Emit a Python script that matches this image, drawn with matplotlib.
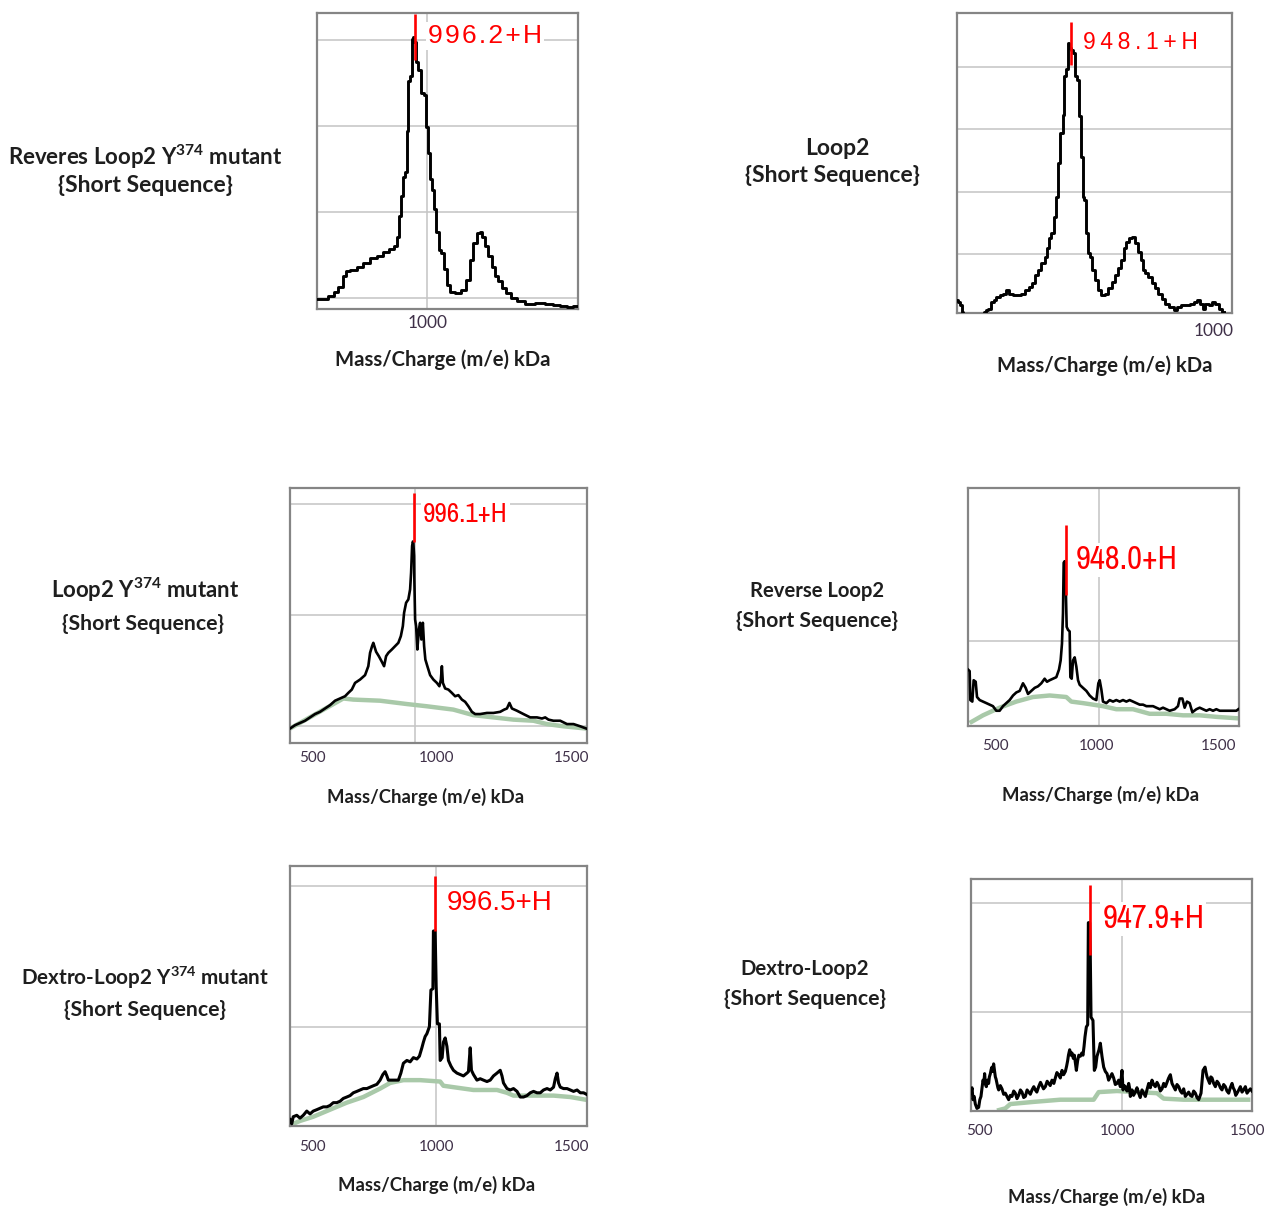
import os
import matplotlib
matplotlib.use('Agg')
import matplotlib.pyplot as plt
from matplotlib import font_manager

plt.rcParams['mathtext.fontset'] = 'custom'
plt.rcParams['mathtext.rm'] = 'Lato'
plt.rcParams['mathtext.default'] = 'regular'

W, H = 1267, 1209
TEXT = '#1e1e1e'
TICK = '#3f3048'
GREEN = '#a9c9a9'
FRAME = '#858585'
GRID = '#c4c4c4'

# ---------------- spectra: m/z and relative intensity ----------------
# Reveres Loop2 Y374 mutant (zoomed window)
rev_y374_mz = [963.6, 965.6, 968.9, 969.5, 971.2, 972.8, 973.4, 975.6, 977.8, 980.1,
               982.3, 984.5, 986.7, 988.4, 989.8, 990.3, 991.2, 991.7, 992.3, 993.2,
               993.6, 994.3, 994.8, 995.2, 995.6, 996.2, 996.9, 997.6, 998.5, 999.5,
               1000.1, 1000.7, 1001.4, 1002.1, 1002.8, 1003.6, 1004.5, 1005.4, 1006.2, 1007.3,
               1008.4, 1010.6, 1012.3, 1013.9, 1015.1, 1016.2, 1017.3, 1018.1, 1019.2, 1020.1,
               1021.2, 1022.3, 1023.4, 1024.5, 1025.8, 1027.3, 1028.9, 1031.2, 1034.5, 1037.8,
               1041.2, 1043.4, 1045.6, 1047.8, 1050.0]
rev_y374_int = [-0.02, -0.02, 0.02, 0.07, 0.13, 0.25, 0.31, 0.32, 0.36, 0.40,
                0.46, 0.49, 0.53, 0.57, 0.60, 0.71, 0.95, 1.18, 1.41, 1.47,
                1.94, 2.52, 2.58, 3.02, 3.04, 2.98, 2.75, 2.65, 2.38, 2.36,
                1.99, 1.69, 1.38, 1.26, 1.03, 0.76, 0.56, 0.52, 0.33, 0.15,
                0.07, 0.05, 0.09, 0.21, 0.44, 0.64, 0.75, 0.77, 0.71, 0.60,
                0.48, 0.36, 0.25, 0.19, 0.11, 0.05, 0.00, -0.04, -0.07, -0.06,
                -0.07, -0.08, -0.10, -0.11, -0.10]

# Loop2 (zoomed window)
loop2_mz = [907.2, 907.9, 908.7, 909.3, 909.6, 913.0, 916.6, 917.5, 917.8, 919.0,
            919.9, 920.8, 922.0, 923.2, 924.4, 925.6, 926.4, 928.0, 929.8, 931.0,
            932.5, 933.7, 934.9, 935.8, 937.0, 938.2, 939.2, 939.7, 940.6, 941.6,
            942.4, 943.3, 944.0, 944.8, 945.7, 946.0, 946.9, 947.2, 947.9, 948.5,
            949.3, 950.0, 950.9, 951.5, 952.1, 952.7, 953.4, 953.9, 954.5, 955.3,
            956.3, 957.2, 958.4, 959.9, 961.1, 962.3, 963.5, 964.7, 965.9, 966.9,
            967.7, 968.5, 969.5, 970.7, 971.9, 972.9, 973.7, 974.6, 975.5, 976.7,
            977.9, 979.1, 980.3, 981.5, 982.7, 984.5, 985.8, 987.0, 988.8, 990.6,
            991.8, 993.0, 994.2, 995.4, 996.0, 997.2, 998.4, 999.6, 1000.8, 1002.0,
            1003.2]
loop2_int = [0.26, 0.23, 0.18, 0.07, -0.01, -0.10, -0.10, 0.07, 0.10, 0.12,
             0.23, 0.26, 0.31, 0.34, 0.36, 0.42, 0.36, 0.34, 0.34, 0.36,
             0.42, 0.47, 0.53, 0.66, 0.74, 0.85, 0.95, 1.09, 1.25, 1.33,
             1.60, 1.92, 2.46, 2.94, 3.23, 3.85, 3.96, 4.38, 4.30, 4.27,
             4.22, 3.85, 3.79, 3.21, 2.56, 1.92, 1.87, 1.33, 1.01, 0.95,
             0.74, 0.58, 0.42, 0.34, 0.36, 0.45, 0.55, 0.66, 0.77, 0.90,
             1.09, 1.20, 1.25, 1.27, 1.17, 1.03, 0.90, 0.74, 0.69, 0.63,
             0.53, 0.45, 0.36, 0.28, 0.20, 0.15, 0.10, 0.15, 0.18, 0.19,
             0.20, 0.23, 0.26, 0.20, 0.12, 0.20, 0.18, 0.23, 0.20, 0.12,
             0.07]

# Loop2 Y374 mutant
l2_y374_mz = [500, 520, 540, 560, 580, 600, 620, 640, 660, 680,
              700, 720, 733, 747, 760, 780, 800, 813, 820, 828,
              833, 844, 855, 867, 876, 884, 893, 907, 920, 933,
              943, 951, 956, 964, 973, 980, 984, 988, 991, 993,
              996, 997, 1000, 1004, 1009, 1015, 1020, 1025, 1031, 1036,
              1041, 1049, 1060, 1073, 1087, 1097, 1103, 1107, 1111, 1120,
              1133, 1147, 1160, 1173, 1187, 1200, 1213, 1227, 1240, 1260,
              1287, 1313, 1340, 1356, 1367, 1377, 1387, 1407, 1433, 1460,
              1487, 1507, 1520, 1533, 1553, 1580, 1607, 1633, 1660, 1684]
l2_y374_int = [-0.02, 0.01, 0.03, 0.05, 0.08, 0.11, 0.13, 0.16, 0.19, 0.23,
               0.25, 0.27, 0.30, 0.33, 0.39, 0.42, 0.46, 0.54, 0.66, 0.72,
               0.75, 0.67, 0.63, 0.58, 0.54, 0.63, 0.66, 0.69, 0.72, 0.75,
               0.81, 0.90, 1.02, 1.11, 1.14, 1.23, 1.38, 1.62, 1.66, 1.65,
               1.53, 1.32, 0.96, 0.90, 0.69, 0.87, 0.93, 0.78, 0.93, 0.72,
               0.60, 0.54, 0.46, 0.42, 0.39, 0.36, 0.42, 0.54, 0.39, 0.34,
               0.33, 0.30, 0.27, 0.28, 0.24, 0.22, 0.18, 0.13, 0.11, 0.11,
               0.12, 0.12, 0.13, 0.15, 0.16, 0.21, 0.16, 0.14, 0.11, 0.08,
               0.08, 0.07, 0.08, 0.06, 0.05, 0.05, 0.02, 0.02, 0.00, -0.02]
l2_y374_base_mz = [500, 713, 753, 860, 967, 1047, 1153, 1233, 1313, 1393, 1473, 1527, 1593, 1684]
l2_y374_base = [-0.02, 0.25, 0.24, 0.23, 0.20, 0.18, 0.15, 0.10, 0.08, 0.06, 0.05, 0.02, 0.00, -0.02]

# Reverse Loop2
rev_l2_mz = [793.7, 796.3, 797.4, 800.5, 802.6, 805.8, 807.9, 812.1, 817.3, 822.6,
             827.8, 833.0, 838.3, 843.5, 848.8, 854.0, 859.3, 864.6, 869.8, 875.1,
             880.3, 884.5, 888.2, 893.4, 898.7, 903.9, 909.2, 914.4, 918.1, 922.3,
             927.5, 932.8, 937.0, 939.6, 941.7, 943.3, 944.4, 945.9, 947.0, 948.0,
             949.1, 951.2, 953.8, 954.9, 957.0, 959.1, 961.7, 964.3, 967.0, 969.6,
             974.8, 980.1, 985.3, 990.5, 995.8, 999.0, 1001.1, 1003.7, 1006.3, 1011.6,
             1016.8, 1022.1, 1027.3, 1032.6, 1037.8, 1043.1, 1048.3, 1053.6, 1058.8, 1064.1,
             1069.3, 1074.6, 1079.8, 1085.1, 1090.3, 1095.6, 1100.8, 1106.1, 1111.3, 1119.2,
             1124.4, 1127.1, 1131.3, 1134.9, 1138.6, 1142.8, 1147.0, 1153.3, 1158.6, 1163.8,
             1169.1, 1174.3, 1179.6, 1184.8, 1190.1, 1195.3, 1200.6, 1208.4, 1216.3, 1219.5]
rev_l2_int = [0.81, 0.80, 0.61, 0.60, 0.74, 0.73, 0.63, 0.61, 0.60, 0.59,
              0.58, 0.57, 0.54, 0.54, 0.57, 0.59, 0.61, 0.64, 0.66, 0.67,
              0.72, 0.69, 0.65, 0.67, 0.69, 0.70, 0.72, 0.75, 0.73, 0.74,
              0.75, 0.76, 0.81, 0.87, 0.98, 1.18, 1.51, 1.52, 1.40, 1.29,
              1.09, 1.07, 1.06, 0.76, 0.75, 0.87, 0.89, 0.83, 0.74, 0.71,
              0.69, 0.67, 0.64, 0.62, 0.61, 0.72, 0.74, 0.68, 0.60, 0.59,
              0.61, 0.60, 0.61, 0.60, 0.61, 0.60, 0.61, 0.60, 0.59, 0.58,
              0.58, 0.57, 0.57, 0.57, 0.56, 0.55, 0.56, 0.55, 0.54, 0.55,
              0.57, 0.62, 0.62, 0.56, 0.60, 0.59, 0.53, 0.55, 0.56, 0.55,
              0.54, 0.55, 0.54, 0.55, 0.54, 0.54, 0.54, 0.54, 0.54, 0.55]
rev_l2_base_mz = [796.3, 817.3, 843.5, 869.8, 896.0, 922.3, 948.5, 956.4, 974.8, 990.5,
                  1006.3, 1027.3, 1053.6, 1079.8, 1106.1, 1132.3, 1158.6, 1184.8, 1219.5]
rev_l2_base = [0.46, 0.51, 0.56, 0.60, 0.63, 0.64, 0.63, 0.60, 0.59, 0.58,
               0.57, 0.55, 0.55, 0.52, 0.52, 0.51, 0.51, 0.50, 0.49]

# Dextro-Loop2 Y374 mutant
dex_y374_mz = [416, 423, 429, 443, 456, 469, 483, 496, 509, 523,
               536, 549, 563, 576, 589, 603, 616, 629, 643, 656,
               669, 683, 696, 709, 723, 736, 749, 763, 776, 787,
               796, 803, 809, 829, 849, 859, 869, 883, 896, 909,
               923, 933, 943, 949, 956, 963, 973, 979, 987, 989,
               996, 1000, 1005, 1013, 1016, 1024, 1029, 1036, 1043, 1049,
               1059, 1069, 1083, 1096, 1109, 1123, 1129, 1136, 1141, 1149,
               1163, 1176, 1189, 1203, 1216, 1229, 1243, 1256, 1263, 1269,
               1283, 1296, 1309, 1323, 1336, 1349, 1363, 1376, 1389, 1403,
               1416, 1429, 1443, 1456, 1469, 1476, 1483, 1489, 1496, 1509,
               1523, 1536, 1549, 1563, 1576, 1589, 1600]
dex_y374_int = [0.34, 0.31, 0.36, 0.37, 0.35, 0.37, 0.40, 0.38, 0.40, 0.41,
                0.42, 0.43, 0.43, 0.44, 0.46, 0.46, 0.47, 0.49, 0.50, 0.51,
                0.53, 0.54, 0.55, 0.56, 0.56, 0.57, 0.58, 0.59, 0.62, 0.66,
                0.68, 0.65, 0.62, 0.62, 0.62, 0.67, 0.74, 0.76, 0.75, 0.78,
                0.77, 0.79, 0.85, 0.89, 0.93, 0.95, 1.00, 1.26, 1.27, 1.68,
                1.68, 1.29, 1.02, 1.02, 0.76, 0.78, 0.89, 0.92, 0.86, 0.76,
                0.72, 0.69, 0.67, 0.66, 0.65, 0.67, 0.68, 0.85, 0.69, 0.66,
                0.62, 0.63, 0.62, 0.61, 0.62, 0.65, 0.67, 0.69, 0.65, 0.60,
                0.56, 0.55, 0.56, 0.54, 0.50, 0.50, 0.51, 0.53, 0.54, 0.53,
                0.53, 0.55, 0.56, 0.55, 0.57, 0.63, 0.67, 0.60, 0.57, 0.56,
                0.56, 0.55, 0.54, 0.55, 0.53, 0.53, 0.52]
dex_y374_base_mz = [416, 456, 509, 576, 643, 709, 776, 816, 869, 936,
                    1016, 1029, 1149, 1243, 1283, 1309, 1469, 1536, 1600]
dex_y374_base = [0.30, 0.33, 0.36, 0.41, 0.46, 0.50, 0.56, 0.60, 0.62, 0.62,
                 0.61, 0.58, 0.55, 0.55, 0.53, 0.51, 0.51, 0.50, 0.48]

# Dextro-Loop2
dex_l2_mz = [751.8, 753.5, 755.1, 757.0, 758.9, 761.6, 764.4, 766.3, 768.2, 770.0,
             771.5, 773.0, 774.2, 775.6, 777.0, 779.0, 780.8, 782.0, 783.6, 785.0,
             786.3, 787.7, 789.0, 790.4, 791.8, 793.0, 794.5, 796.0, 797.3, 800.0,
             802.7, 805.5, 808.2, 811.0, 813.7, 816.5, 819.2, 822.0, 824.7, 827.4,
             830.1, 833.0, 835.6, 838.4, 841.1, 844.0, 846.6, 849.3, 852.1, 855.0,
             857.5, 860.0, 863.0, 866.0, 868.5, 871.0, 874.0, 877.0, 879.5, 882.0,
             884.9, 888.0, 890.4, 893.0, 895.9, 898.6, 901.4, 904.0, 906.9, 909.0,
             910.7, 912.0, 914.0, 916.0, 917.8, 920.0, 921.7, 923.5, 925.0, 926.0,
             927.1, 929.0, 931.5, 934.0, 935.9, 937.6, 939.2, 941.4, 943.6, 944.7,
             946.9, 947.9, 949.1, 952.3, 954.5, 956.7, 958.9, 960.5, 962.2, 964.4,
             967.1, 969.9, 972.6, 975.4, 978.0, 980.8, 983.5, 986.3, 989.0, 991.8,
             994.5, 997.3, 1000.0, 1001.7, 1003.6, 1005.5, 1008.2, 1011.0, 1012.4, 1013.7,
             1015.0, 1016.5, 1019.0, 1021.9, 1024.6, 1027.4, 1030.0, 1032.9, 1035.6, 1038.4,
             1041.0, 1043.9, 1046.6, 1049.3, 1052.0, 1054.8, 1057.5, 1060.3, 1063.0, 1065.8,
             1068.5, 1071.3, 1074.0, 1076.7, 1079.5, 1082.2, 1085.0, 1087.7, 1090.4, 1093.2,
             1096.0, 1098.7, 1101.4, 1104.1, 1106.8, 1109.6, 1112.3, 1115.1, 1117.8, 1120.6,
             1123.3, 1126.1, 1128.0, 1129.9, 1131.5, 1133.2, 1136.5, 1138.2, 1139.8, 1142.0,
             1144.1, 1146.0, 1148.0, 1150.7, 1153.5, 1156.2, 1158.9, 1161.7, 1164.4, 1167.1,
             1169.9, 1172.6, 1175.4, 1178.0, 1180.9, 1182.8, 1184.7, 1187.0, 1189.1, 1192.0,
             1194.6, 1197.3, 1200.0, 1202.8, 1205.5, 1208.0, 1211.0, 1213.7]
dex_l2_int = [0.25, 0.30, 0.19, 0.22, 0.15, 0.11, 0.12, 0.19, 0.22, 0.30,
              0.37, 0.35, 0.43, 0.33, 0.31, 0.37, 0.34, 0.40, 0.43, 0.47,
              0.49, 0.45, 0.52, 0.46, 0.40, 0.38, 0.34, 0.30, 0.28, 0.32,
              0.29, 0.24, 0.25, 0.22, 0.19, 0.23, 0.22, 0.27, 0.25, 0.20,
              0.23, 0.28, 0.26, 0.21, 0.22, 0.28, 0.26, 0.24, 0.28, 0.31,
              0.28, 0.26, 0.31, 0.35, 0.32, 0.29, 0.31, 0.36, 0.34, 0.32,
              0.37, 0.34, 0.39, 0.44, 0.42, 0.39, 0.46, 0.42, 0.45, 0.50,
              0.55, 0.60, 0.65, 0.60, 0.62, 0.57, 0.60, 0.52, 0.46, 0.50,
              0.55, 0.60, 0.59, 0.62, 0.60, 0.68, 0.77, 0.86, 0.88, 1.82,
              1.82, 1.52, 0.95, 0.92, 0.46, 0.49, 0.59, 0.62, 0.65, 0.71,
              0.59, 0.49, 0.45, 0.43, 0.37, 0.40, 0.43, 0.39, 0.33, 0.34,
              0.37, 0.31, 0.46, 0.28, 0.32, 0.31, 0.27, 0.34, 0.30, 0.22,
              0.25, 0.28, 0.23, 0.26, 0.30, 0.25, 0.21, 0.28, 0.25, 0.22,
              0.28, 0.34, 0.30, 0.37, 0.33, 0.31, 0.35, 0.32, 0.27, 0.29,
              0.34, 0.31, 0.35, 0.39, 0.42, 0.34, 0.31, 0.28, 0.33, 0.31,
              0.27, 0.25, 0.29, 0.22, 0.24, 0.26, 0.23, 0.22, 0.27, 0.25,
              0.21, 0.19, 0.22, 0.25, 0.35, 0.46, 0.49, 0.44, 0.40, 0.37,
              0.34, 0.40, 0.39, 0.34, 0.31, 0.36, 0.34, 0.30, 0.28, 0.33,
              0.31, 0.27, 0.25, 0.30, 0.34, 0.30, 0.28, 0.23, 0.25, 0.28,
              0.31, 0.26, 0.28, 0.31, 0.25, 0.27, 0.29, 0.27]
dex_l2_base_mz = [794.5, 808.2, 816.4, 854.8, 898.6, 953.4, 961.7, 991.8, 1024.7, 1057.6,
                  1068.5, 1101.4, 1156.2, 1211.0]
dex_l2_base = [0.09, 0.11, 0.15, 0.17, 0.19, 0.19, 0.26, 0.27, 0.26, 0.25,
               0.20, 0.19, 0.19, 0.19]

# labelled [M+H] peaks
peak_mz = [996.2, 948.1, 996.1, 948.0, 996.5, 947.9]
peak_text = [f'{m:.1f}+H' for m in peak_mz]
# vertical extent of each red peak marker (intensity units)
marker_lo = [2.77, 4.03, 1.66, 1.30, 1.68, 1.52]
marker_hi = [3.31, 4.72, 2.10, 1.76, 2.07, 2.17]

titles = [
    ('Reveres Loop2 Y$^{374}$ mutant', '{Short Sequence}'),
    ('Loop2', '{Short Sequence}'),
    ('Loop2 Y$^{374}$ mutant', '{Short Sequence}'),
    ('Reverse Loop2', '{Short Sequence}'),
    ('Dextro-Loop2 Y$^{374}$ mutant', '{Short Sequence}'),
    ('Dextro-Loop2', '{Short Sequence}'),
]
tick_text = [['1000'], ['1000'], ['500', '1000', '1500'], ['500', '1000', '1500'],
             ['500', '1000', '1500'], ['500', '1000', '1500']]
x_title = 'Mass/Charge (m/e) kDa'


def find_narrow():
    """Look for an installed regular-weight narrow/condensed sans font file."""
    skip = ('bold', 'italic', 'oblique', 'light', 'thin', 'medium', 'black',
            'semi', 'extra', 'heavy', 'mono', 'serif')
    best, rank = None, 0
    for f in font_manager.fontManager.ttflist:
        base = os.path.basename(f.fname).lower()
        if 'narrow' not in base and 'condensed' not in base:
            continue
        stem = base.rsplit('.', 1)[0].replace('condensed', '').replace('narrow', '')
        if any(w in stem for w in skip):
            continue
        r = 3 if ('liberation' in base or 'arial' in base) else (1 if 'dejavu' in base else 2)
        if r > rank:
            best, rank = f.fname, r
    return best, rank


narrow_file, narrow_rank = find_narrow()


def label_font(kind, size):
    if kind == 'narrow':
        if narrow_file is not None:
            scale = 0.9 if narrow_rank == 1 else 1.0
            return font_manager.FontProperties(fname=narrow_file, size=size * scale)
        return font_manager.FontProperties(family='Liberation Sans', size=size * 0.84)
    return font_manager.FontProperties(family=['Liberation Sans', 'DejaVu Sans'], size=size)


# layout of every panel, in pixels of the final image
layout = [
    dict(box=(317, 13, 578, 309), xlim=(963.5, 1050.5), ylim=(-0.132, 3.318), yt=[0, 1, 2, 3],
         vgrid=[1000], lab_y=3.05, lab_dx=13, lab_fs=19, lab_kind='wide', gap='\u200a',
         t_xy=[(145, 165), (145, 192)], t_fs=(16, 16.6),
         tk_xy=[(428, 323)], tk_fs=12.5, xl_xy=(443, 360), xl_fs=14.6),
    dict(box=(957, 13, 1232, 313), xlim=(907.2, 1006.2), ylim=(0.054, 4.866), yt=[1, 2, 3, 4],
         vgrid=[], lab_y=4.39, lab_dx=12, lab_fs=16.5, lab_kind='wide', gap='\u2009',
         t_xy=[(837, 155), (832, 182)], t_fs=(16.5, 16.6),
         tk_xy=[(1214, 331)], tk_fs=12.5, xl_xy=(1105, 366), xl_fs=14.6),
    dict(box=(290, 488, 587, 743), xlim=(500, 1687), ylim=(-0.150, 2.141), yt=[0, 1, 2],
         vgrid=[1000], lab_y=1.90, lab_dx=9, lab_fs=19.5, lab_kind='narrow', gap='',
         t_xy=[(145, 598), (143, 630)], t_fs=(15.9, 15.3),
         tk_xy=[(312, 758), (437, 758), (572, 758)], tk_fs=11, xl_xy=(426, 797), xl_fs=13.3),
    dict(box=(968, 488, 1239, 726), xlim=(793.7, 1220.5), ylim=(0.44, 2.0), yt=[1, 2],
         vgrid=[1000], lab_y=1.53, lab_dx=10, lab_fs=23.5, lab_kind='narrow', gap='',
         t_xy=[(817, 597), (817, 627)], t_fs=(14.6, 15.3),
         tk_xy=[(995, 746), (1097, 746), (1219, 746)], tk_fs=11, xl_xy=(1101, 795), xl_fs=13.3),
    dict(box=(290, 866, 587, 1126), xlim=(416, 1602.7), ylim=(0.294, 2.142), yt=[1, 2],
         vgrid=[1000], lab_y=1.877, lab_dx=11, lab_fs=20, lab_kind='wide', gap='',
         t_xy=[(145, 985), (145, 1016)], t_fs=(14.9, 15.3),
         tk_xy=[(312, 1147), (437, 1147), (572, 1147)], tk_fs=11, xl_xy=(437, 1185), xl_fs=13.3),
    dict(box=(971, 879, 1252, 1111), xlim=(751.8, 1213.7), ylim=(0.086, 2.222), yt=[1, 2],
         vgrid=[1000], lab_y=1.852, lab_dx=12, lab_fs=23.5, lab_kind='narrow', gap='',
         t_xy=[(805, 975), (805, 1005)], t_fs=(14.7, 15.3),
         tk_xy=[(979, 1131), (1118, 1131), (1248, 1131)], tk_fs=11, xl_xy=(1107, 1197), xl_fs=13.3),
]

# (m/z, intensity, baseline m/z, baseline, line width, draw style)
series = [
    (rev_y374_mz, rev_y374_int, None, None, 2.1, 'steps-mid'),
    (loop2_mz, loop2_int, None, None, 2.1, 'steps-mid'),
    (l2_y374_mz, l2_y374_int, l2_y374_base_mz, l2_y374_base, 1.9, 'default'),
    (rev_l2_mz, rev_l2_int, rev_l2_base_mz, rev_l2_base, 1.9, 'default'),
    (dex_y374_mz, dex_y374_int, dex_y374_base_mz, dex_y374_base, 2.2, 'default'),
    (dex_l2_mz, dex_l2_int, dex_l2_base_mz, dex_l2_base, 2.2, 'default'),
]


def fx(x):
    return x / W


def fy(y):
    return 1 - y / H


fig = plt.figure(figsize=(W / 100, H / 100), dpi=100)
fig.patch.set_facecolor('white')

for i, lay in enumerate(layout):
    l, t, r, b = lay['box']
    ax = fig.add_axes([fx(l), fy(b), (r - l) / W, (b - t) / H])
    mz, inten, bmz, bint, lw, ds = series[i]

    if bmz is not None:
        ax.plot(bmz, bint, color=GREEN, lw=3.2, solid_capstyle='butt', zorder=2)
    ax.plot(mz, inten, color='black', lw=lw, drawstyle=ds, zorder=3)

    ax.vlines(peak_mz[i], marker_lo[i], marker_hi[i], color='red', lw=1.9, zorder=4)
    txt = lay['gap'].join(peak_text[i]) if lay['gap'] else peak_text[i]
    ax.annotate(txt, xy=(peak_mz[i], lay['lab_y']), xytext=(lay['lab_dx'], 0),
                textcoords='offset pixels', ha='left', va='center', color='red',
                fontproperties=label_font(lay['lab_kind'], lay['lab_fs']), zorder=5,
                bbox=dict(fc='white', ec='none', pad=1.5))

    ax.set_xlim(*lay['xlim'])
    ax.set_ylim(*lay['ylim'])
    ax.set_xticks(lay['vgrid'])
    ax.set_yticks(lay['yt'])
    ax.grid(True, color=GRID, lw=1.1)
    ax.set_axisbelow(True)
    ax.tick_params(length=0, labelbottom=False, labelleft=False)
    for sp in ax.spines.values():
        sp.set_color(FRAME)
        sp.set_linewidth(1.6)

    # sample name to the left of the spectrum
    (tx1, ty1), (tx2, ty2) = lay['t_xy']
    fig.text(fx(tx1), fy(ty1), titles[i][0], ha='center', va='baseline',
             fontsize=lay['t_fs'][0], family='Lato', weight='bold', color=TEXT)
    fig.text(fx(tx2), fy(ty2), titles[i][1], ha='center', va='baseline',
             fontsize=lay['t_fs'][1], family='Lato', weight='bold', color=TEXT)

    for s, (kx, ky) in zip(tick_text[i], lay['tk_xy']):
        fig.text(fx(kx), fy(ky), s, ha='center', va='center', fontsize=lay['tk_fs'],
                 family='Lato', color=TICK)

    xx, xy = lay['xl_xy']
    fig.text(fx(xx), fy(xy), x_title, ha='center', va='center', fontsize=lay['xl_fs'],
             family='Lato', weight='bold', color=TEXT)

fig.savefig('out.png', dpi=100)
